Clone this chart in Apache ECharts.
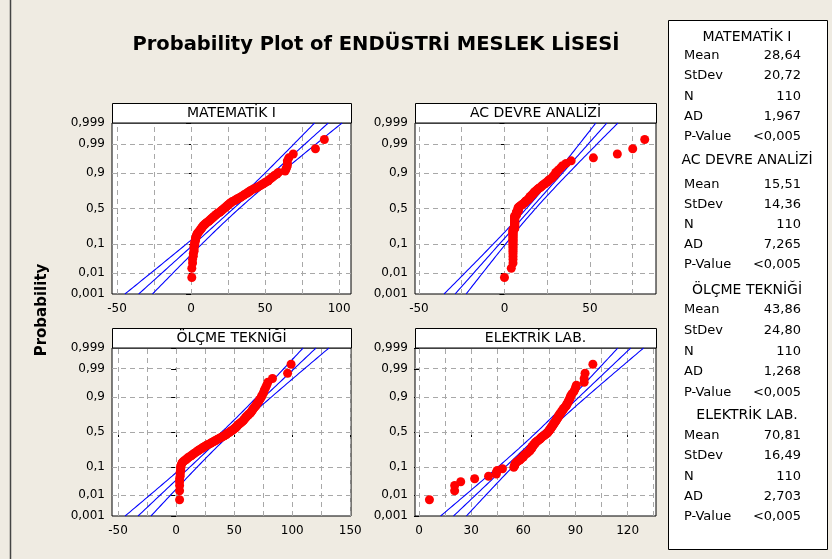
<!DOCTYPE html>
<html><head><meta charset="utf-8">
<script src="https://cdn.jsdelivr.net/npm/echarts@6/dist/echarts.min.js"></script>
<style>html,body{margin:0;padding:0;background:#EFEBE2}#c{width:832px;height:559px}</style>
</head><body><div id="c"></div>
<script>
// ---------- chart values ----------
const titleText = 'Probability Plot of ENDÜSTRİ MESLEK LİSESİ';
const yAxisTitle = 'Probability';
const panelNames = ['MATEMATİK I', 'AC DEVRE ANALİZİ', 'ÖLÇME TEKNİĞİ', 'ELEKTRİK LAB.'];
const means = [28.64, 15.51, 43.86, 70.81];
const stdevs = [20.72, 14.36, 24.80, 16.49];
const counts = [110, 110, 110, 110];
const adValues = [1.967, 7.265, 1.268, 2.703];
const pValues = ['<0,005', '<0,005', '<0,005', '<0,005'];
const probTicks = [0.001, 0.01, 0.1, 0.5, 0.9, 0.99, 0.999];
const probTickLabels = ['0,001', '0,01', '0,1', '0,5', '0,9', '0,99', '0,999'];
const probGridLines = [0.01, 0.1, 0.5, 0.9, 0.99];
const xTickValues = [[-50, 0, 50, 100], [-50, 0, 50], [-50, 0, 50, 100, 150], [0, 30, 60, 90, 120]];
const xGridValues = [
  [-50, -25, 0, 25, 50, 75, 100],
  [-50, -25, 0, 25, 50, 75],
  [-50, -25, 0, 25, 50, 75, 100, 125, 150],
  [0, 15, 30, 45, 60, 75, 90, 105, 120, 135]
];
const mathI = [0.5,0.5,1,1,1.5,1.5,2,2,2,2,
  2.5,2.5,2.5,3,3,3,3.5,3.5,4,4,
  4.5,5,5.5,6,6.5,7,7,7.5,8,8.5,
  9,9.5,10,10.5,11.5,12,12.5,13,13.5,14,
  14.5,15,15.5,16,16.5,17,17.5,18,19,19.5,
  20,20.5,21,21.5,22,22.5,23,23.5,24,24.5,
  25,25.5,26,26.5,27,27.5,28.5,29.5,30,31,
  31.5,32.5,33.5,34,35,35.5,36.5,37,38,38.5,
  39.5,40,41,42,43.5,44.5,45.5,46.5,47.5,48.5,
  49.5,50.5,52,52.5,53.5,54.5,55.5,56.5,58,59,
  63.5,64,64.5,65,65,65,66,69,84,90];
const acDevre = [0,4,5,5,5,5,5,5,5,5,
  5,5,5,5,5,5,5,5,5,5,
  5,5,5,5,5,6,6,6,6,6,
  6,6,6,6,6,6,6,6,6,6,
  6,6,6,6,7,7,7,7,7,7,
  8,8,8,8,8,8,8,8.5,9,9.5,
  10,10.5,11,11.5,12,12,12.5,13,13.5,14,
  14.5,14.5,15,15,15.5,16,16.5,17,17,17.5,
  18,18.5,19,19.5,20,21,21.5,22,22.5,23.5,
  24,25,25.5,26,27,28,28.5,29,30,30,
  31,32,33,34,36,39,52,66,75,82];
const olcme = [3,3,3,3,3,3.5,3.5,3.5,4,4,
  4,4,4.5,5,5.5,6.5,8,9,10,11,
  12.5,13.5,14.5,15.5,16.5,17.5,18.5,19.5,20.5,21.5,
  22.5,23.5,24.5,25.5,26.5,27.5,29,30,31,32,
  33,34,35,36,37,38,39,40,41,42,
  43,43.5,44,45,46,46.5,47,48,49,49.5,
  50,51,51.5,52,52.5,53,53.5,54,55,55.5,
  56,57,57.5,58,58.5,59,59.5,60,60.5,61,
  62,62.5,63,64,64.5,65,65.5,66,66.5,67,
  67.5,68.5,69,69.5,70,71,71.5,72,73,73.5,
  74,75,75.5,76,77,78,79,83,96,99];
const elektrik = [6,20.5,20.5,24,32,40,44.5,44.5,45,48,
  54.5,55,55,55.5,56,57,58,58.5,59,60,
  60,60.5,61,62,62.5,63,63.5,64,64,64.5,
  65,65,65,65.5,66,66,66.5,67,67,67.5,
  68,68.5,69,69.5,70,70,70.5,71,71.5,72,
  72.5,73,73.5,74,74,74.5,74.5,75,75,75.5,
  75.5,76,76,76.5,76.5,77,77,77.5,77.5,78,
  78,78.5,78.5,79,79,79.5,79.5,80,80,80.5,
  80.5,81,81,81.5,82,82,82.5,83,83,83.5,
  84,84.5,85,85,85.5,86,86,86.5,87,87,
  87.5,88,89,89.5,90,90.5,95,95,95.5,100];
const panelData = [mathI, acDevre, olcme, elektrik];

// ---------- layout ----------
const gridBoxes = [
  {left: 112, top: 123, width: 239, height: 171},
  {left: 415, top: 123, width: 241, height: 171},
  {left: 112, top: 348, width: 239, height: 168},
  {left: 415, top: 348, width: 241, height: 168}
];
const xRanges = [[-53.4, 108], [-52.3, 88.6], [-55.2, 150.6], [-2.3, 136.3]];
const FONT = '"DejaVu Sans", sans-serif';

// inverse standard normal CDF (probability scale)
function probit(p) {
  const a=[-3.969683028665376e+01,2.209460984245205e+02,-2.759285104469687e+02,1.383577518672690e+02,-3.066479806614716e+01,2.506628277459239e+00];
  const b=[-5.447609879822406e+01,1.615858368580409e+02,-1.556989798598866e+02,6.680131188771972e+01,-1.328068155288572e+01];
  const c=[-7.784894002430293e-03,-3.223964580411365e-01,-2.400758277161838e+00,-2.549732539343734e+00,4.374664141464968e+00,2.938163982698783e+00];
  const d=[7.784695709041462e-03,3.224671290700398e-01,2.445134137142996e+00,3.754408661907416e+00];
  const pl = 0.02425;
  if (p < pl) { const q = Math.sqrt(-2*Math.log(p)); return (((((c[0]*q+c[1])*q+c[2])*q+c[3])*q+c[4])*q+c[5])/((((d[0]*q+d[1])*q+d[2])*q+d[3])*q+1); }
  if (p > 1-pl) { const q = Math.sqrt(-2*Math.log(1-p)); return -(((((c[0]*q+c[1])*q+c[2])*q+c[3])*q+c[4])*q+c[5])/((((d[0]*q+d[1])*q+d[2])*q+d[3])*q+1); }
  const q = p-0.5, r = q*q;
  return (((((a[0]*r+a[1])*r+a[2])*r+a[3])*r+a[4])*r+a[5])*q/(((((b[0]*r+b[1])*r+b[2])*r+b[3])*r+b[4])*r+1);
}
const zTicks = probTicks.map(probit);
const zMin = zTicks[0], zMax = zTicks[zTicks.length-1];
const zGrid = probGridLines.map(probit);

const grids = [], xAxes = [], yAxes = [], series = [];
panelData.forEach((vals, k) => {
  const g = gridBoxes[k];
  grids.push({left: g.left, top: g.top, width: g.width, height: g.height, show: true,
    backgroundColor: '#fff', borderColor: '#000', borderWidth: 1, containLabel: false});
  xAxes.push({type: 'value', gridIndex: k, min: xRanges[k][0], max: xRanges[k][1],
    axisLine: {show: false}, splitLine: {show: false},
    axisTick: {show: true, length: 5, lineStyle: {color: '#000'}, customValues: xTickValues[k]},
    axisLabel: {customValues: xTickValues[k], color: '#000', fontSize: 12, fontFamily: FONT, margin: 9}});
  yAxes.push({type: 'value', gridIndex: k, min: zMin, max: zMax,
    axisLine: {show: false}, splitLine: {show: false},
    axisTick: {show: true, length: 5, lineStyle: {color: '#000'}, customValues: zTicks},
    axisLabel: {customValues: zTicks, color: '#000', fontSize: 12, fontFamily: FONT, margin: 7,
      formatter: v => { let b = 0; zTicks.forEach((t, j) => { if (Math.abs(t - v) < Math.abs(zTicks[b] - v)) b = j; }); return probTickLabels[b]; }}});
  const n = vals.length, m = means[k], s = stdevs[k];
  const zs = []; for (let j = 0; j <= 80; j++) zs.push(zMin + (zMax - zMin) * j / 80);
  const hw = z => 1.96 * s * Math.sqrt((1 + z * z / 2) / counts[k]);
  const lineStyle = {color: '#0000FF', width: 1.1};
  series.push({type: 'line', xAxisIndex: k, yAxisIndex: k, z: 8, symbol: 'none', silent: true, animation: false,
    lineStyle, data: zs.map(z => [m + z * s, z]),
    markLine: {silent: true, z: 1, symbol: ['none', 'none'], animation: false, label: {show: false},
      lineStyle: {color: '#A8A8A8', type: [5, 4], width: 1},
      data: xGridValues[k].map(v => ({xAxis: v})).concat(zGrid.map(z => ({yAxis: z})))}});
  series.push({type: 'line', xAxisIndex: k, yAxisIndex: k, z: 8, symbol: 'none', silent: true, animation: false,
    lineStyle, data: zs.map(z => [m + z * s - hw(z), z])});
  series.push({type: 'line', xAxisIndex: k, yAxisIndex: k, z: 8, symbol: 'none', silent: true, animation: false,
    lineStyle, data: zs.map(z => [m + z * s + hw(z), z])});
  series.push({type: 'scatter', xAxisIndex: k, yAxisIndex: k, z: 10, symbolSize: 9, animation: false,
    itemStyle: {color: '#FF0000', opacity: 1},
    data: vals.map((v, i) => [v, probit((i + 1 - 0.3) / (n + 0.4))])});
});

// ---------- decorations ----------
const graphics = [];
graphics.push({type: 'line', silent: true, shape: {x1: 10.5, y1: 0, x2: 10.5, y2: 559}, style: {stroke: '#444', lineWidth: 1.5}});
graphics.push({type: 'text', x: 376, y: 45, silent: true, style: {text: titleText, fontSize: 19.5, fontWeight: 'bold',
  fontFamily: FONT, fill: '#000', textAlign: 'center', textVerticalAlign: 'middle', align: 'center', verticalAlign: 'middle'}});
graphics.push({type: 'text', x: 42, y: 310, rotation: Math.PI / 2, silent: true, style: {text: yAxisTitle, fontSize: 15,
  fontWeight: 'bold', fontFamily: FONT, fill: '#000', textAlign: 'center', textVerticalAlign: 'middle', align: 'center', verticalAlign: 'middle'}});
gridBoxes.forEach((g, k) => {
  graphics.push({type: 'rect', silent: true, z: 5, shape: {x: g.left + 0.5, y: g.top - 19.5, width: g.width, height: 19.5},
    style: {fill: '#fff', stroke: '#000', lineWidth: 1}});
  graphics.push({type: 'text', silent: true, z: 6, x: g.left + g.width / 2, y: g.top - 9.5, style: {text: panelNames[k], fontSize: 14,
    fontFamily: FONT, fill: '#000', textAlign: 'center', textVerticalAlign: 'middle', align: 'center', verticalAlign: 'middle'}});
});
// statistics box
graphics.push({type: 'rect', silent: true, shape: {x: 668.5, y: 20.5, width: 159, height: 529}, style: {fill: '#fff', stroke: '#000', lineWidth: 1}});
const headerY = [37, 160, 290, 415];
const rowY = [[56, 76, 97, 117, 137], [185, 205, 225, 245, 265], [310, 331, 352, 372, 393], [436, 456, 477, 497, 517]];
const rowLabels = ['Mean', 'StDev', 'N', 'AD', 'P-Value'];
function txt(x, y, t, align, size) {
  return {type: 'text', silent: true, x, y, style: {text: t, fontSize: size, fontFamily: FONT, fill: '#000',
    textAlign: align, textVerticalAlign: 'middle', align, verticalAlign: 'middle'}};
}
panelNames.forEach((name, k) => {
  graphics.push(txt(747, headerY[k], name, 'center', 14));
  const vals = [means[k].toFixed(2).replace('.', ','), stdevs[k].toFixed(2).replace('.', ','), String(counts[k]),
    adValues[k].toFixed(3).replace('.', ','), pValues[k]];
  rowLabels.forEach((lab, r) => {
    graphics.push(txt(684, rowY[k][r], lab, 'left', 13));
    graphics.push(txt(801, rowY[k][r], vals[r], 'right', 13));
  });
});

const chart = echarts.init(document.getElementById('c'), null, {renderer: 'canvas'});
chart.setOption({
  backgroundColor: '#EFEBE2',
  animation: false,
  grid: grids, xAxis: xAxes, yAxis: yAxes, series: series, graphic: graphics
});
</script></body></html>
